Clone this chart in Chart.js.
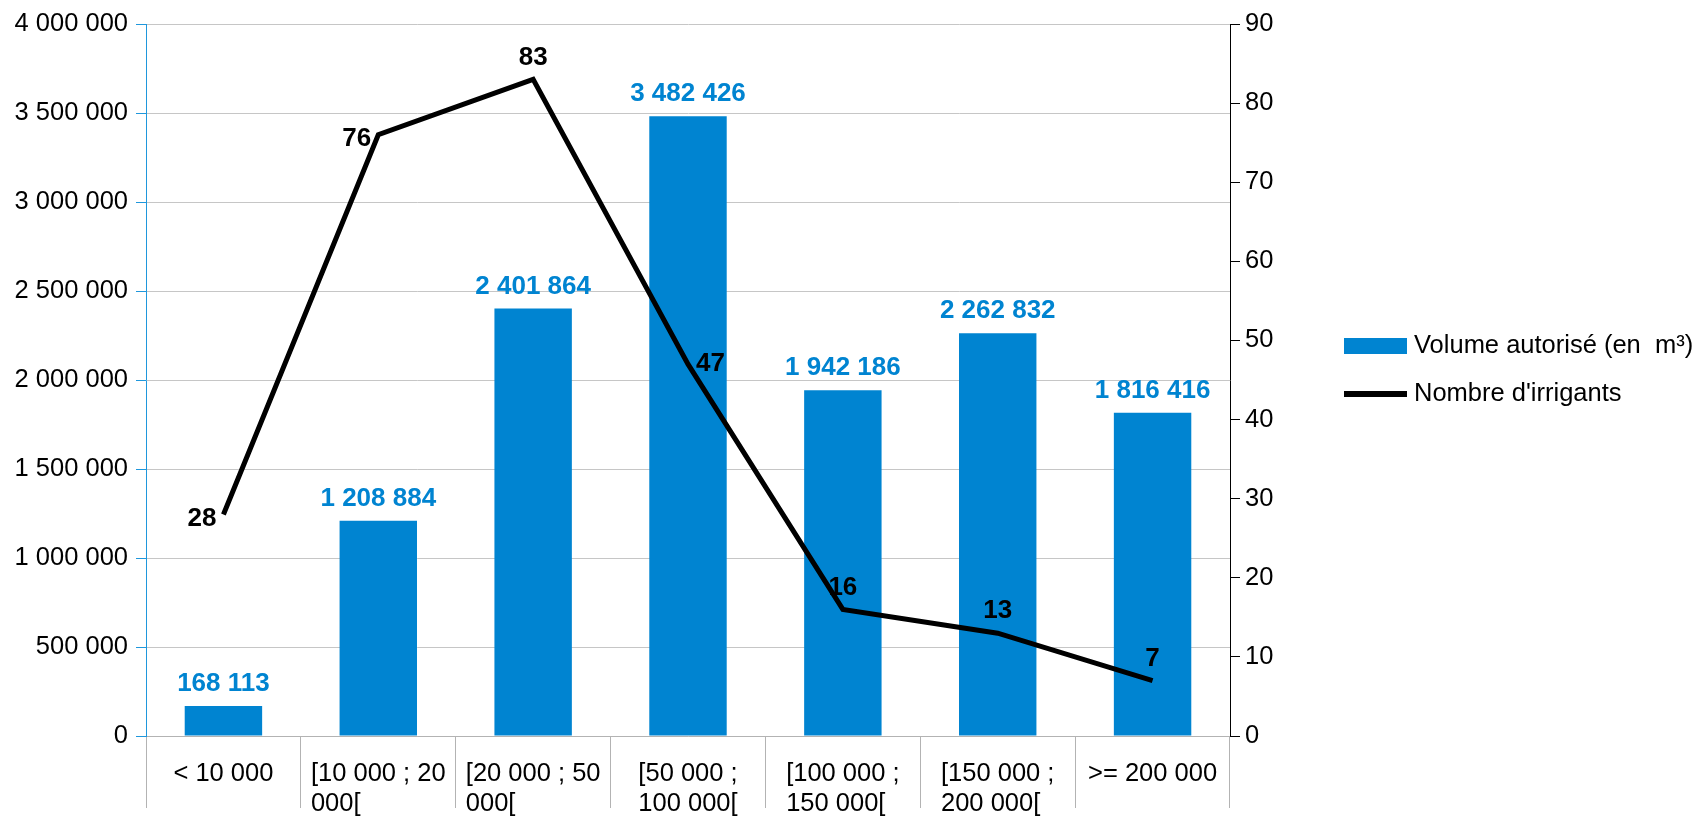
<!DOCTYPE html>
<html>
<head>
<meta charset="utf-8">
<script src="https://cdn.jsdelivr.net/npm/chart.js@4/dist/chart.umd.min.js"></script>
<style>
html, body { margin: 0; padding: 0; background: #fff; }
</style>
</head>
<body>
<canvas id="irrigChart" width="1702" height="817"></canvas>
<script>
// categories (already split in lines as in the original chart)
var categories = [
    ['< 10 000'],
    ['[10 000 ; 20', '000['],
    ['[20 000 ; 50', '000['],
    ['[50 000 ;', '100 000['],
    ['[100 000 ;', '150 000['],
    ['[150 000 ;', '200 000['],
    ['>= 200 000']
];
var volumes = [168113, 1208884, 2401864, 3482426, 1942186, 2262832, 1816416];
var irrigants = [28, 76, 83, 47, 16, 13, 7];
var irrigantLabelSides = ['left', 'left', 'top', 'right', 'top', 'top', 'top'];
var volumeLabel = 'Volume autorisé (en  m³)';
var irrigantLabel = "Nombre d'irrigants";

var BLUE = '#0084d1';
var FONT = '"Liberation Sans", Arial, sans-serif';

function spaced(v) {
    return String(v).replace(/\B(?=(\d{3})+(?!\d))/g, ' ');
}

Chart.defaults.font.family = FONT;
Chart.defaults.font.size = 25.5;
Chart.defaults.color = '#000';

var extras = {
    id: 'extras',
    afterDraw: function(chart) {
        var ctx = chart.ctx;
        var area = chart.chartArea;
        var xs = chart.scales.x;
        ctx.save();

        // category labels, left aligned block centred in each category
        ctx.font = '25.5px ' + FONT;
        ctx.fillStyle = '#000';
        ctx.textAlign = 'left';
        ctx.textBaseline = 'middle';
        categories.forEach(function(lines, i) {
            var cx = xs.getPixelForValue(i);
            var w = 0;
            lines.forEach(function(l) { w = Math.max(w, ctx.measureText(l).width); });
            lines.forEach(function(l, k) {
                ctx.fillText(l, cx - w / 2, area.bottom + 38 + k * 30);
            });
        });

        // bar values
        ctx.font = 'bold 26px ' + FONT;
        ctx.fillStyle = BLUE;
        ctx.textAlign = 'center';
        chart.getDatasetMeta(1).data.forEach(function(el, i) {
            ctx.fillText(spaced(volumes[i]), el.x, el.y - 22);
        });

        // line values
        ctx.fillStyle = '#000';
        chart.getDatasetMeta(0).data.forEach(function(el, i) {
            var side = irrigantLabelSides[i];
            var txt = String(irrigants[i]);
            if (side === 'left') {
                ctx.textAlign = 'right';
                ctx.fillText(txt, el.x - 7, el.y + 4);
            } else if (side === 'right') {
                ctx.textAlign = 'left';
                ctx.fillText(txt, el.x + 8, el.y);
            } else {
                ctx.textAlign = 'center';
                ctx.fillText(txt, el.x, el.y - 22);
            }
        });

        // legend
        var lx = area.right + 114;
        var ly = area.top + 322;
        ctx.fillStyle = BLUE;
        ctx.fillRect(lx, ly - 8, 63, 16);
        ctx.fillStyle = '#000';
        ctx.fillRect(lx, ly + 48 - 3, 63, 6);
        ctx.font = '25.5px ' + FONT;
        ctx.textAlign = 'left';
        ctx.fillText(volumeLabel, lx + 70, ly);
        ctx.fillText(irrigantLabel, lx + 70, ly + 48);
        ctx.restore();
    }
};

new Chart(document.getElementById('irrigChart').getContext('2d'), {
    data: {
        labels: categories,
        datasets: [{
            type: 'line',
            label: irrigantLabel,
            data: irrigants,
            yAxisID: 'yR',
            borderColor: '#000',
            borderWidth: 5,
            pointRadius: 0,
            tension: 0,
            order: 0
        }, {
            type: 'bar',
            label: volumeLabel,
            data: volumes,
            yAxisID: 'yL',
            backgroundColor: BLUE,
            barPercentage: 0.5,
            categoryPercentage: 1,
            order: 1
        }]
    },
    options: {
        responsive: false,
        animation: false,
        layout: { padding: { top: 24, left: 0, right: 0, bottom: 0 } },
        plugins: { legend: { display: false }, tooltip: { enabled: false } },
        scales: {
            x: {
                offset: true,
                grid: { offset: true, drawOnChartArea: false, color: '#b3b3b3', tickLength: 72 },
                border: { color: '#b3b3b3' },
                ticks: { display: false },
                afterFit: function(s) { s.height = 81; }
            },
            yL: {
                position: 'left',
                min: 0,
                max: 4000000,
                ticks: { stepSize: 500000, padding: 8, callback: function(v) { return spaced(v); } },
                grid: { color: '#c6c6c6', tickColor: '#1f97dc', tickLength: 10 },
                border: { color: '#1f97dc' },
                afterFit: function(s) { s.width = 146; }
            },
            yR: {
                position: 'right',
                min: 0,
                max: 90,
                ticks: { stepSize: 10, padding: 5 },
                grid: { drawOnChartArea: false, tickColor: '#000', tickLength: 10 },
                border: { color: '#000' },
                afterFit: function(s) { s.width = 472; }
            }
        }
    },
    plugins: [extras]
});
</script>
</body>
</html>
